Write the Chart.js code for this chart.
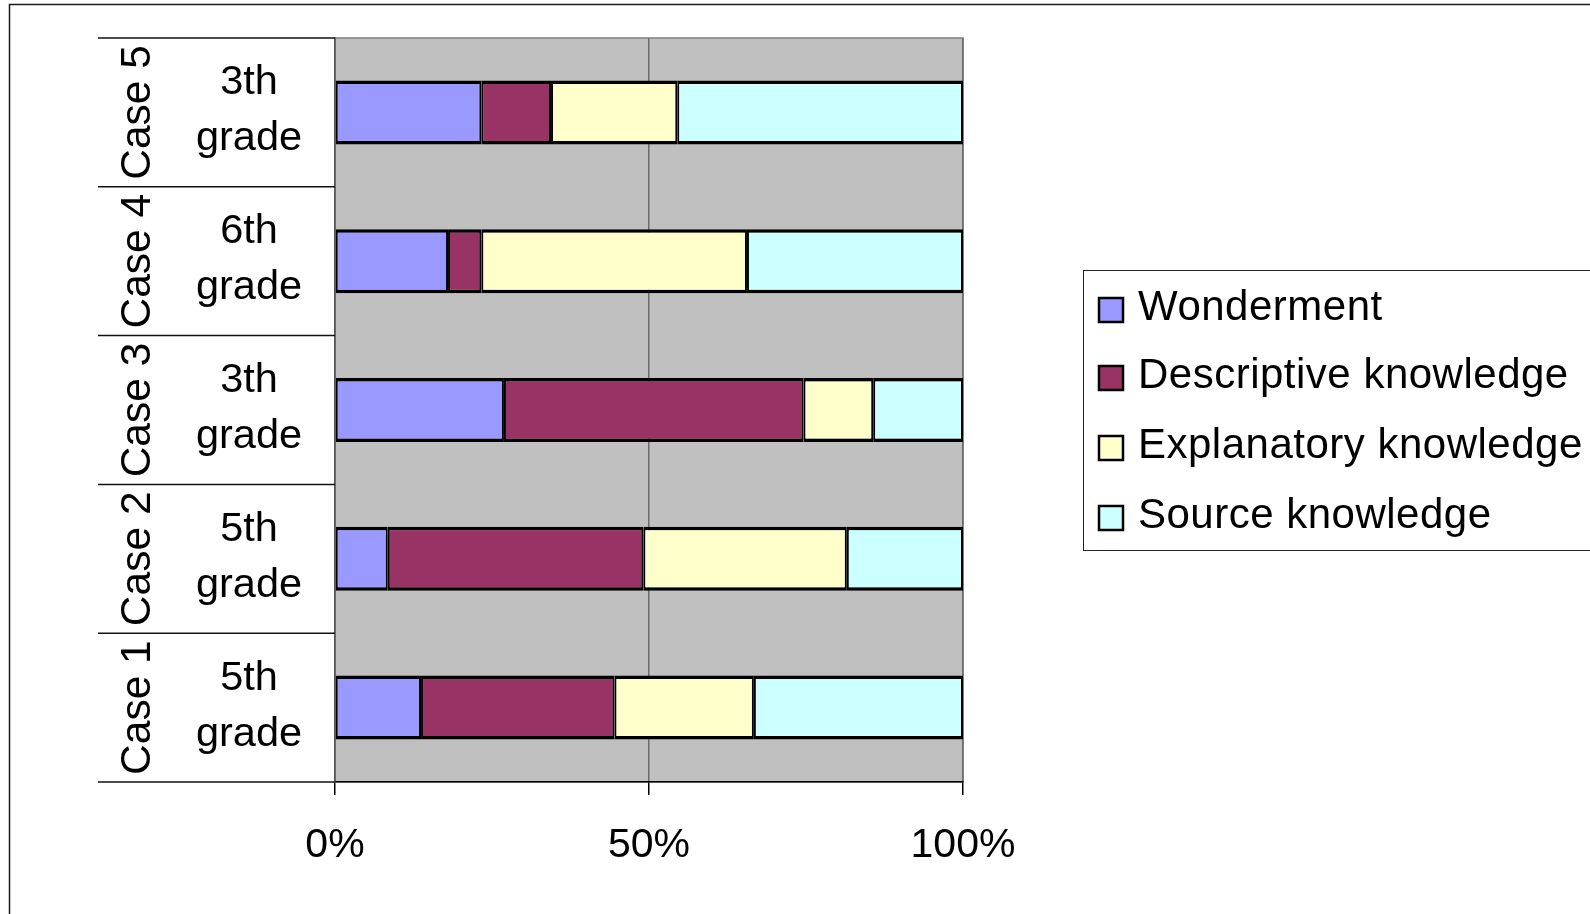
<!DOCTYPE html>
<html><head><meta charset="utf-8">
<script src="https://cdn.jsdelivr.net/npm/chart.js@4.4.1/dist/chart.umd.min.js"></script>
<style>html,body{margin:0;padding:0;background:#fff;overflow:hidden}#wrap{width:1590px;height:914px;position:relative}canvas{display:block}</style>
</head><body><div id="wrap"><canvas id="c" width="1590" height="914"></canvas></div>
<script>
// ---- data ----
const categories = ['Case 1', 'Case 2', 'Case 3', 'Case 4', 'Case 5'];
const grades = ['5th grade', '5th grade', '3th grade', '6th grade', '3th grade'];
const seriesNames = ['Wonderment', 'Descriptive knowledge', 'Explanatory knowledge', 'Source knowledge'];
const wonderment  = [13.7,  8.4, 26.9, 18.0, 23.3];
const descriptive = [30.8, 40.7, 47.7,  5.3, 11.1];
const explanatory = [22.2, 32.4, 11.1, 42.3, 20.1];
const source      = [33.3, 18.5, 14.3, 34.4, 45.5];
const xTicks = [0, 50, 100];

const seriesColors = ['#9999FF', '#993366', '#FFFFCC', '#CCFFFF'];
const FONT = "'Liberation Sans', Arial, Helvetica, sans-serif";

const framePlugin = {
  id: 'frame',
  beforeDraw(chart) {
    const ctx = chart.ctx, a = chart.chartArea;
    ctx.save();
    ctx.fillStyle = '#fff';
    ctx.fillRect(0, 0, chart.width, chart.height);
    ctx.strokeStyle = '#1a1a1a';
    ctx.lineWidth = 1.5;
    ctx.beginPath();
    ctx.moveTo(9.5, chart.height + 5);
    ctx.lineTo(9.5, 4.5);
    ctx.lineTo(chart.width + 5, 4.5);
    ctx.stroke();
    ctx.fillStyle = '#c0c0c0';
    ctx.fillRect(a.left, a.top, a.right - a.left, a.bottom - a.top);
    ctx.strokeStyle = '#808080';
    ctx.lineWidth = 1.5;
    ctx.strokeRect(a.left, a.top, a.right - a.left, a.bottom - a.top);
    ctx.restore();
  },
  afterDraw(chart) {
    const ctx = chart.ctx, a = chart.chartArea, ys = chart.scales.y;
    const n = categories.length;
    ctx.save();
    // category separators
    ctx.strokeStyle = '#111';
    ctx.lineWidth = 1.5;
    for (let k = 0; k <= n; k++) {
      const y = a.top + k * (a.bottom - a.top) / n;
      ctx.beginPath();
      ctx.moveTo(98, y);
      ctx.lineTo(a.left, y);
      ctx.stroke();
    }
    // category labels
    ctx.fillStyle = '#000';
    for (let i = 0; i < n; i++) {
      const cy = ys.getPixelForValue(i);
      ctx.save();
      ctx.font = '42.5px ' + FONT;
      ctx.translate(150, cy);
      ctx.rotate(-Math.PI / 2);
      ctx.textAlign = 'center';
      ctx.textBaseline = 'alphabetic';
      ctx.fillText(categories[i], 0, 0);
      ctx.restore();
      const parts = grades[i].split(' ');
      ctx.font = '41.5px ' + FONT;
      ctx.textAlign = 'center';
      ctx.textBaseline = 'alphabetic';
      ctx.fillText(parts[0], 249, cy - 18);
      ctx.fillText(parts[1], 249, cy + 38);
    }
    // legend
    ctx.strokeStyle = '#222';
    ctx.lineWidth = 1;
    ctx.strokeRect(1083.5, 270.5, 700, 280);
    ctx.font = '42px ' + FONT;
    try { ctx.letterSpacing = '0.5px'; } catch (e) {}
    ctx.textAlign = 'left';
    ctx.textBaseline = 'alphabetic';
    const baselines = [320, 388, 458, 528];
    chart.data.datasets.forEach((ds, i) => {
      const by = baselines[i];
      ctx.fillStyle = ds.backgroundColor;
      ctx.fillRect(1099, by - 22, 24, 24);
      ctx.strokeStyle = '#000';
      ctx.lineWidth = 2.5;
      ctx.strokeRect(1099, by - 22, 24, 24);
      ctx.fillStyle = '#000';
      ctx.fillText(ds.label, 1138, by);
    });
    ctx.restore();
  }
};

const seriesData = [wonderment, descriptive, explanatory, source];
const datasets = seriesNames.map((name, i) => ({
  label: name,
  data: seriesData[i],
  backgroundColor: seriesColors[i],
  borderColor: '#000',
  borderWidth: {top: 3.5, bottom: 3.5, left: 2, right: 2},
  borderSkipped: false,
  barPercentage: 0.43,
  categoryPercentage: 1
}));

new Chart(document.getElementById('c'), {
  type: 'bar',
  data: {labels: categories, datasets},
  options: {
    indexAxis: 'y',
    responsive: false,
    animation: false,
    devicePixelRatio: 1,
    layout: {padding: {top: 38, right: 627, bottom: 0, left: 0}},
    plugins: {legend: {display: false}, tooltip: {enabled: false}},
    scales: {
      x: {
        type: 'linear', stacked: true, min: 0, max: 100,
        afterBuildTicks: s => { s.ticks = xTicks.map(v => ({value: v})); },
        ticks: {callback: v => v + '%', font: {family: FONT, size: 41}, color: '#000', padding: 26, maxRotation: 0, autoSkip: false},
        grid: {color: '#6b6b6b', lineWidth: 1.5, tickColor: '#000', tickLength: 13},
        border: {color: '#000', width: 1.5},
        afterFit: s => { s.height = 132; }
      },
      y: {
        type: 'category', stacked: true, reverse: true, offset: true,
        ticks: {display: false},
        grid: {display: false, drawTicks: false},
        border: {color: '#555', width: 1.5},
        afterFit: s => { s.width = 335; }
      }
    }
  },
  plugins: [framePlugin]
});
</script>
</body></html>
